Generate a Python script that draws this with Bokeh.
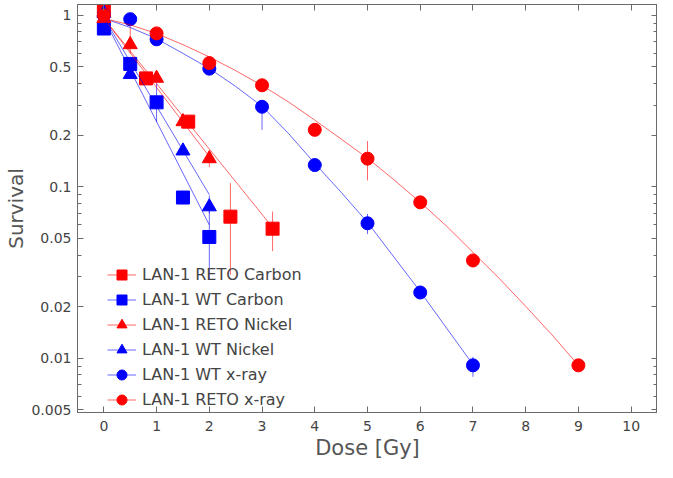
from bokeh.plotting import figure
from bokeh.models import FixedTicker, LogAxis, LinearAxis, Legend, LegendItem
from bokeh.embed import file_html
from bokeh.resources import INLINE

# ---------------- data ----------------
# LAN-1 RETO Carbon (red squares)
reto_c_dose = [0.0, 0.8, 1.6, 2.4, 3.2]
reto_c_surv = [1.07, 0.429, 0.24, 0.067, 0.057]
reto_c_err_dose = [2.4, 3.2]
reto_c_err_lo = [0.0307, 0.0422]
reto_c_err_hi = [0.105, 0.0717]
reto_c_fit_dose = [0.0, 3.2]
reto_c_fit_surv = [0.96, 0.058]

# LAN-1 WT Carbon (blue squares)
wt_c_dose = [0.0, 0.5, 1.0, 1.5, 2.0]
wt_c_surv = [0.838, 0.521, 0.311, 0.0866, 0.051]
wt_c_err_dose = [1.0, 1.5, 2.0]
wt_c_err_lo = [0.239, 0.080, 0.0287]
wt_c_err_hi = [0.40, 0.094, 0.075]
wt_c_fit_dose = [0.0, 2.0]
wt_c_fit_surv = [0.96, 0.06]

# LAN-1 RETO Nickel (red triangles)
reto_n_dose = [0.0, 0.5, 1.0, 1.5, 2.0]
reto_n_surv = [0.96, 0.675, 0.43, 0.24, 0.146]
reto_n_err_dose = [0.5, 2.0]
reto_n_err_lo = [0.60, 0.13]
reto_n_err_hi = [0.95, 0.16]
reto_n_fit_dose = [0.0, 2.0]
reto_n_fit_surv = [0.96, 0.15]

# LAN-1 WT Nickel (blue triangles)
wt_n_dose = [0.0, 0.5, 1.5, 2.0]
wt_n_surv = [1.03, 0.452, 0.162, 0.0765]
wt_n_err_dose = [2.0]
wt_n_err_lo = [0.07]
wt_n_err_hi = [0.089]
wt_n_fit_dose = [0.0, 2.0]
wt_n_fit_surv = [0.97, 0.09]

# LAN-1 WT x-ray (blue circles)
wt_x_dose = [0.0, 0.5, 1.0, 2.0, 3.0, 4.0, 5.0, 6.0, 7.0]
wt_x_surv = [1.0, 0.95, 0.725, 0.489, 0.293, 0.134, 0.0613, 0.0242, 0.0091]
wt_x_err_dose = [3.0, 5.0, 7.0]
wt_x_err_lo = [0.215, 0.053, 0.0078]
wt_x_err_hi = [0.30, 0.0695, 0.0102]
wt_x_fit_dose = [0, 0.5, 1, 1.5, 2, 2.5, 3, 3.5, 4, 4.5, 5, 5.5, 6, 6.5, 7]
wt_x_fit_surv = [0.96, 0.85, 0.73, 0.60, 0.49, 0.385, 0.295, 0.205, 0.137,
                 0.093, 0.062, 0.039, 0.0245, 0.015, 0.0092]

# LAN-1 RETO x-ray (red circles)
reto_x_dose = [0.0, 1.0, 2.0, 3.0, 4.0, 5.0, 6.0, 7.0, 9.0]
reto_x_surv = [1.0, 0.785, 0.527, 0.391, 0.215, 0.146, 0.0812, 0.0372, 0.0091]
reto_x_err_dose = [5.0, 9.0]
reto_x_err_lo = [0.109, 0.0085]
reto_x_err_hi = [0.185, 0.0097]
reto_x_fit_dose = [0, 0.5, 1, 1.5, 2, 2.5, 3, 3.5, 4, 4.5, 5, 5.5, 6, 6.5, 7,
                   7.5, 8, 8.5, 9]
reto_x_fit_surv = [0.96, 0.88, 0.783, 0.675, 0.572, 0.476, 0.39, 0.313, 0.245,
                   0.19, 0.147, 0.11, 0.0813, 0.059, 0.0415, 0.0292, 0.0201,
                   0.0137, 0.0091]

x_ticks = [0, 1, 2, 3, 4, 5, 6, 7, 8, 9, 10]
y_ticks = [1, 0.5, 0.2, 0.1, 0.05, 0.02, 0.01, 0.005]
y_tick_labels = ["1", "0.5", "0.2", "0.1", "0.05", "0.02", "0.01", "0.005"]

RED = "#ff0000"
BLUE = "#0000ff"
GRAY = "#555555"
AXC = "#6a6a6a"
FONT = "DejaVu Sans"

p = figure(width=657, height=462, y_axis_type="log",
           x_range=(-0.5, 10.5), y_range=(0.00483, 1.157),
           output_backend="svg", toolbar_location=None,
           min_border_left=77, min_border_right=0, min_border_top=4,
           min_border_bottom=0)
p.xgrid.grid_line_color = None
p.ygrid.grid_line_color = None
p.outline_line_color = AXC
p.background_fill_color = "white"
p.border_fill_color = "white"

bottom_ax = p.below[0]
left_ax = p.left[0]

minor = []
for dec in [0.001, 0.01, 0.1, 1.0]:
    for k in range(2, 10):
        minor.append(round(k * dec, 6))

yt = FixedTicker(ticks=y_ticks, minor_ticks=minor)
xt = FixedTicker(ticks=x_ticks, minor_ticks=[])

right_ax = LogAxis(ticker=yt)
top_ax = LinearAxis(ticker=xt)
p.add_layout(right_ax, "right")
p.add_layout(top_ax, "above")

bottom_ax.ticker = xt
left_ax.ticker = yt

for ax in [bottom_ax, left_ax, right_ax, top_ax]:
    ax.major_tick_in = 6
    ax.major_tick_out = 0
    ax.minor_tick_in = 4
    ax.minor_tick_out = 0
    ax.axis_line_color = AXC
    ax.major_tick_line_color = AXC
    ax.minor_tick_line_color = AXC
    ax.major_label_text_color = "#444444"
    ax.major_label_text_font = FONT
    ax.major_label_text_font_size = "14px"
    ax.axis_label_text_font = FONT
    ax.axis_label_text_color = GRAY
    ax.axis_label_text_font_style = "normal"

left_ax.major_label_overrides = {v: s for v, s in zip(y_ticks, y_tick_labels)}
right_ax.major_label_overrides = {v: "" for v in y_ticks}
top_ax.major_label_overrides = {v: "" for v in x_ticks}
for ax in [right_ax, top_ax]:
    ax.major_label_standoff = 0

bottom_ax.axis_label = "Dose [Gy]"
bottom_ax.axis_label_text_font_size = "21px"
bottom_ax.major_label_standoff = 8
bottom_ax.axis_label_standoff = 2
left_ax.axis_label = "Survival"
left_ax.axis_label_text_font_size = "20px"
left_ax.major_label_standoff = 6
left_ax.axis_label_standoff = 0

series = [
    ("LAN-1 RETO Carbon", RED, "square", 13,
     reto_c_dose, reto_c_surv, reto_c_fit_dose, reto_c_fit_surv,
     reto_c_err_dose, reto_c_err_lo, reto_c_err_hi),
    ("LAN-1 WT Carbon", BLUE, "square", 13,
     wt_c_dose, wt_c_surv, wt_c_fit_dose, wt_c_fit_surv,
     wt_c_err_dose, wt_c_err_lo, wt_c_err_hi),
    ("LAN-1 RETO Nickel", RED, "triangle", 14,
     reto_n_dose, reto_n_surv, reto_n_fit_dose, reto_n_fit_surv,
     reto_n_err_dose, reto_n_err_lo, reto_n_err_hi),
    ("LAN-1 WT Nickel", BLUE, "triangle", 14,
     wt_n_dose, wt_n_surv, wt_n_fit_dose, wt_n_fit_surv,
     wt_n_err_dose, wt_n_err_lo, wt_n_err_hi),
    ("LAN-1 WT x-ray", BLUE, "circle", 13,
     wt_x_dose, wt_x_surv, wt_x_fit_dose, wt_x_fit_surv,
     wt_x_err_dose, wt_x_err_lo, wt_x_err_hi),
    ("LAN-1 RETO x-ray", RED, "circle", 13,
     reto_x_dose, reto_x_surv, reto_x_fit_dose, reto_x_fit_surv,
     reto_x_err_dose, reto_x_err_lo, reto_x_err_hi),
]

items = []
for (label, col, mk, sz, xd, yd, fx, fy, ex, elo, ehi) in series:
    ln = p.line(fx, fy, line_color=col, line_width=1, line_alpha=0.6)
    p.segment(x0=ex, y0=elo, x1=ex, y1=ehi, line_color=col, line_width=1,
              line_alpha=0.6)
    sc = p.scatter(xd, yd, marker=mk, size=sz, fill_color=col, line_color=col)
    items.append(LegendItem(label=label, renderers=[ln, sc]))

legend = Legend(items=items, location=(30, 0), orientation="vertical",
                background_fill_alpha=0, border_line_alpha=0,
                glyph_width=29, glyph_height=25, label_height=20,
                spacing=0, padding=0, margin=0, label_standoff=6,
                label_text_font=FONT, label_text_font_size="16px",
                label_text_color="#444444")
p.add_layout(legend, "center")

open("out.html", "w").write(file_html(p, INLINE))
